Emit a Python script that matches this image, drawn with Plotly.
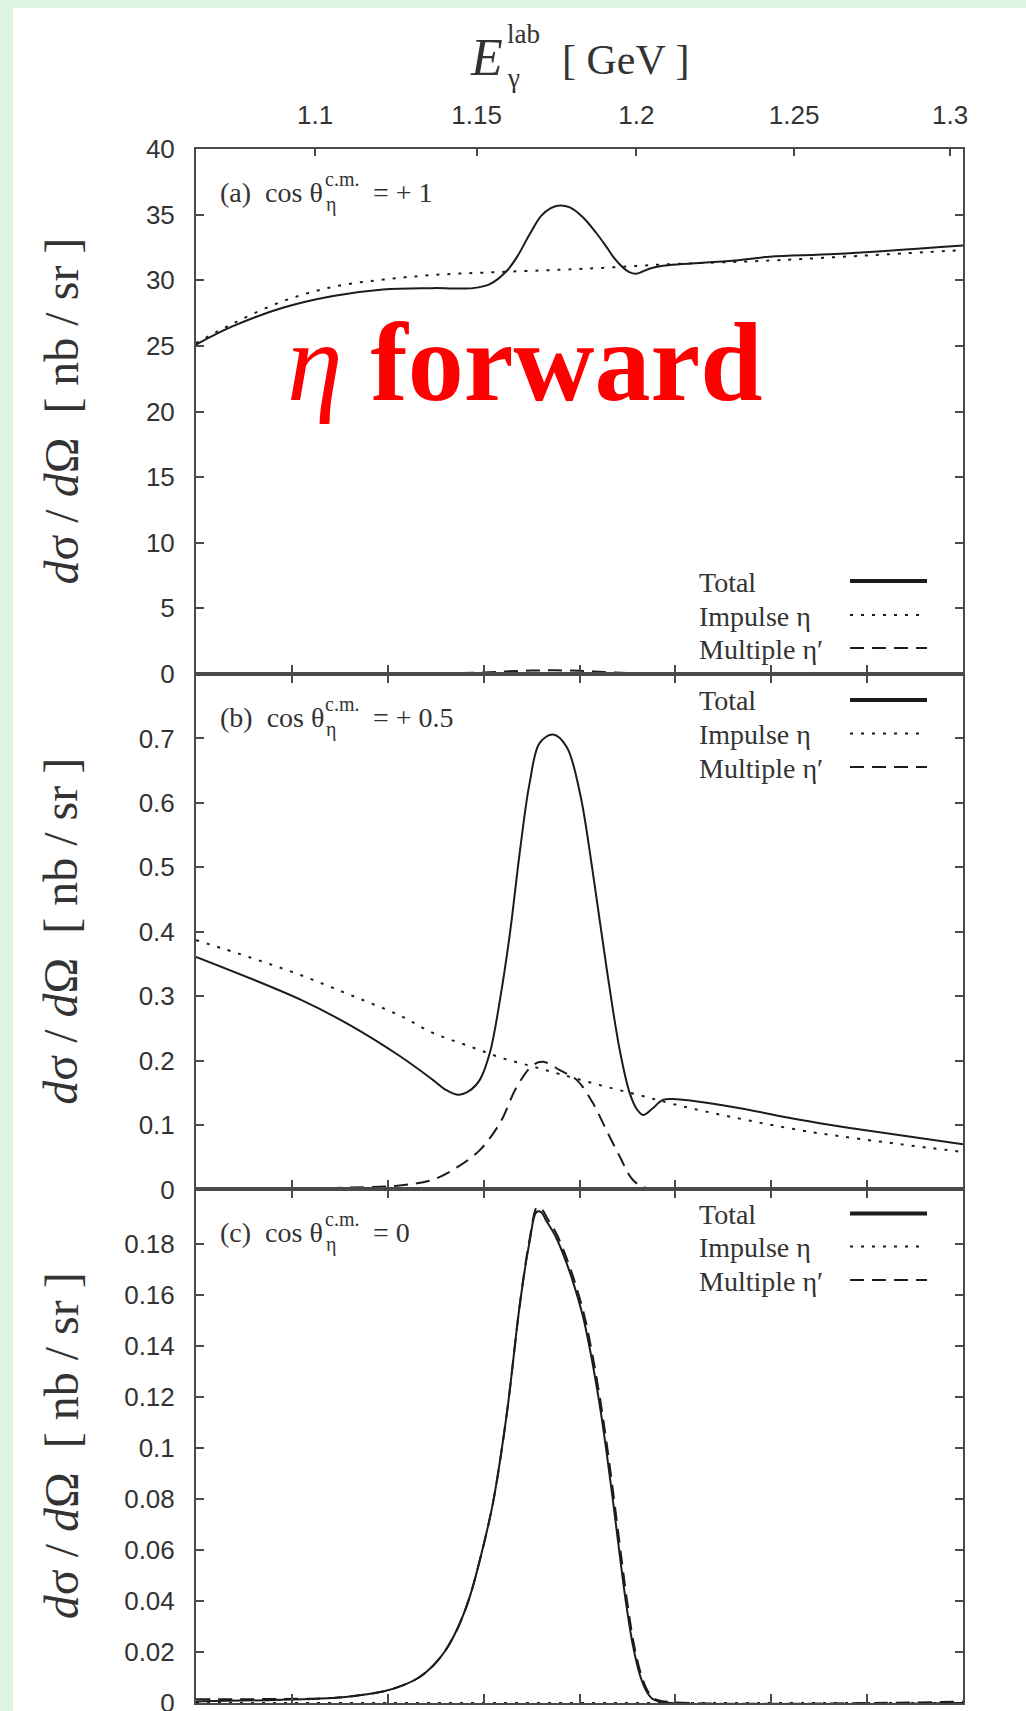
import math
import plotly.graph_objects as go

# ---------------- data (x = W, c.m. energy in GeV) ----------------
M_D = 1.875613  # deuteron mass, maps E_gamma^lab -> W for the top axis

# panel (a) cos = +1
w_a_total = [2.7400, 2.7477, 2.7581, 2.7686, 2.7790, 2.7894, 2.7978, 2.8013, 2.8048, 2.8070,
             2.8096, 2.8120, 2.8140, 2.8159, 2.8180, 2.8207, 2.8235, 2.8257, 2.8272, 2.8290,
             2.8305, 2.8319, 2.8347, 2.8374, 2.8524, 2.8597, 2.8734, 2.9000]
a_total = [25.1, 26.5, 27.9, 28.8, 29.3, 29.4, 29.4, 29.7, 30.7, 31.8,
           33.5, 34.9, 35.5, 35.7, 35.55, 34.8, 33.6, 32.5, 31.7, 31.0,
           30.6, 30.5, 30.9, 31.1, 31.5, 31.8, 32.0, 32.65]
w_a_imp = [2.7400, 2.7477, 2.7581, 2.7686, 2.7790, 2.7894, 2.8013, 2.8159, 2.8257, 2.8374,
           2.8597, 2.8734, 2.9000]
a_imp = [25.2, 26.7, 28.4, 29.5, 30.05, 30.4, 30.6, 30.8, 30.96, 31.2, 31.5, 31.76, 32.3]
w_a_mult = [2.740, 2.780, 2.790, 2.800, 2.805, 2.810, 2.815, 2.820, 2.825, 2.830, 2.840, 2.900]
a_mult = [0.0, 0.01, 0.04, 0.12, 0.20, 0.26, 0.28, 0.24, 0.15, 0.07, 0.01, 0.0]

# panel (b) cos = +0.5
w_b_total = [2.7400, 2.7617, 2.7721, 2.7825, 2.7894, 2.7920, 2.7946, 2.7970, 2.7992, 2.8013,
             2.8034, 2.8055, 2.8076, 2.8096, 2.8117, 2.8145, 2.8173, 2.8201, 2.8228, 2.8256,
             2.8284, 2.8305, 2.8320, 2.8333, 2.8353, 2.8374, 2.8402, 2.8520, 2.8659, 2.8768,
             2.9000]
b_total = [0.361, 0.295, 0.255, 0.207, 0.170, 0.155, 0.147, 0.153, 0.170, 0.212,
           0.294, 0.398, 0.527, 0.631, 0.693, 0.706, 0.687, 0.615, 0.491, 0.346,
           0.216, 0.149, 0.124, 0.1155, 0.126, 0.139, 0.140, 0.128, 0.108, 0.095,
           0.070]
w_b_imp = [2.7400, 2.7513, 2.7617, 2.7721, 2.7825, 2.7894, 2.7971, 2.8034, 2.8096, 2.8159,
           2.8242, 2.8326, 2.8409, 2.8520, 2.8659, 2.8768, 2.9000]
b_imp = [0.387, 0.360, 0.333, 0.302, 0.270, 0.243, 0.222, 0.205, 0.192, 0.179,
         0.162, 0.146, 0.130, 0.112, 0.092, 0.080, 0.058]
w_b_mult = [2.7400, 2.7617, 2.7721, 2.7825, 2.7894, 2.7946, 2.7992, 2.8034, 2.8069, 2.8103,
            2.8124, 2.8159, 2.8194, 2.8228, 2.8256, 2.8284, 2.8311, 2.8340, 2.8400, 2.9000]
b_mult = [0.000, 0.001, 0.003, 0.006, 0.015, 0.035, 0.061, 0.103, 0.159, 0.193,
          0.198, 0.185, 0.170, 0.134, 0.092, 0.051, 0.015, 0.002, 0.000, 0.000]

# panel (c) cos = 0
w_c_total = [2.7400, 2.7686, 2.7740, 2.7790, 2.7830, 2.7865, 2.7894, 2.7920, 2.7945, 2.7970,
             2.7992, 2.8019, 2.8048, 2.8076, 2.8096, 2.8110, 2.8120, 2.8131, 2.8150, 2.8173,
             2.8190, 2.8208, 2.8225, 2.8242, 2.8256, 2.8270, 2.8284, 2.8298, 2.8312, 2.8326,
             2.8340, 2.8353, 2.8380, 2.9000]
c_total = [0.0006, 0.0020, 0.0030, 0.0045, 0.0068, 0.0100, 0.0145, 0.0205, 0.0290, 0.0410,
           0.0560, 0.0780, 0.1130, 0.1570, 0.1810, 0.1925, 0.1925, 0.1890, 0.1830, 0.1725,
           0.1630, 0.1510, 0.1355, 0.1170, 0.0990, 0.0790, 0.0580, 0.0380, 0.0220, 0.0110,
           0.0045, 0.0015, 0.0002, 0.0000]
w_c_imp = [2.7400, 2.9000]
c_imp = [0.0, 0.0]
w_c_mult = [2.7400, 2.7686, 2.7740, 2.7790, 2.7830, 2.7865, 2.7894, 2.7920, 2.7945, 2.7970,
            2.7992, 2.8019, 2.8048, 2.8076, 2.8096, 2.8112, 2.8122, 2.8133, 2.8152, 2.8175,
            2.8192, 2.8210, 2.8227, 2.8244, 2.8258, 2.8272, 2.8286, 2.8300, 2.8314, 2.8328,
            2.8342, 2.8355, 2.8382, 2.9000]
c_mult = [0.0015, 0.0020, 0.0030, 0.0045, 0.0068, 0.0100, 0.0145, 0.0205, 0.0290, 0.0410,
          0.0560, 0.0780, 0.1130, 0.1570, 0.1820, 0.1945, 0.1935, 0.1900, 0.1840, 0.1735,
          0.1640, 0.1520, 0.1365, 0.1180, 0.1000, 0.0800, 0.0590, 0.0390, 0.0225, 0.0115,
          0.0048, 0.0018, 0.0005, 0.0005]

# axes ticks / labels
w_ticks = [2.76, 2.78, 2.80, 2.82, 2.84, 2.86, 2.88]
e_ticks = [1.10, 1.15, 1.20, 1.25, 1.30]
e_tick_labels = ["1.1", "1.15", "1.2", "1.25", "1.3"]
ya_ticks = [0, 5, 10, 15, 20, 25, 30, 35, 40]
ya_labels = ["0", "5", "10", "15", "20", "25", "30", "35", "40"]
yb_ticks = [0, 0.1, 0.2, 0.3, 0.4, 0.5, 0.6, 0.7]
yb_labels = ["0", "0.1", "0.2", "0.3", "0.4", "0.5", "0.6", "0.7"]
yc_ticks = [0, 0.02, 0.04, 0.06, 0.08, 0.1, 0.12, 0.14, 0.16, 0.18]
yc_labels = ["0", "0.02", "0.04", "0.06", "0.08", "0.1", "0.12", "0.14", "0.16", "0.18"]
panel_tags = ["(a)", "(b)", "(c)"]
panel_cos = ["= + 1", "= + 0.5", "= 0"]
legend_names = ["Total", "Impulse η", "Multiple η′"]

# ---------------- layout geometry ----------------
W_FIG, H_FIG = 1026, 1711
ML, MR, MT, MB = 196, 63, 149, 8
PW = W_FIG - ML - MR
PH = H_FIG - MT - MB


def fx(px):
    return (px - ML) / PW


def fy(py):
    return (H_FIG - MB - py) / PH


SERIF = "Liberation Serif, Times New Roman, serif"
SANS = "Liberation Sans, Arial, sans-serif"
LINE_C = "#1c1c1c"
AXIS_C = "#4a4a4a"
TXT_C = "#333333"

DOTS = "3px,8px"
DASH = "14px,8px"
SMOOTH = 1.0

fig = go.Figure()

panels = [
    ("x", "y", w_a_total, a_total, w_a_imp, a_imp, w_a_mult, a_mult),
    ("x2", "y2", w_b_total, b_total, w_b_imp, b_imp, w_b_mult, b_mult),
    ("x3", "y3", w_c_total, c_total, w_c_imp, c_imp, w_c_mult, c_mult),
]
for xa, ya, wt, vt, wi, vi, wm, vm in panels:
    fig.add_trace(go.Scatter(x=wm, y=vm, xaxis=xa, yaxis=ya, mode="lines",
                             line=dict(color=LINE_C, width=2, dash=DASH, shape="spline", smoothing=SMOOTH),
                             showlegend=False, name="Multiple η′"))
    fig.add_trace(go.Scatter(x=wi, y=vi, xaxis=xa, yaxis=ya, mode="lines",
                             line=dict(color=LINE_C, width=2, dash=DOTS, shape="spline", smoothing=SMOOTH),
                             showlegend=False, name="Impulse η"))
    fig.add_trace(go.Scatter(x=wt, y=vt, xaxis=xa, yaxis=ya, mode="lines",
                             line=dict(color=LINE_C, width=2, shape="spline", smoothing=SMOOTH),
                             showlegend=False, name="Total"))

XR = [2.74, 2.90]
w_of_e = [math.sqrt(M_D ** 2 + 2 * M_D * e) for e in e_ticks]

ax_common = dict(showline=True, linecolor=AXIS_C, linewidth=2, ticks="inside",
                 tickcolor=AXIS_C, tickwidth=2, showgrid=False, zeroline=False, automargin=False)
ytick_font = dict(family=SANS, size=26, color=TXT_C)

dom_a = [fy(674), 1.0]
dom_b = [fy(1189.4), fy(674)]
dom_c = [0.0, fy(1189.4)]

fig.update_layout(
    width=W_FIG, height=H_FIG,
    margin=dict(l=ML, r=MR, t=MT, b=MB, pad=0, autoexpand=False),
    paper_bgcolor="white", plot_bgcolor="white",
    showlegend=False,
    xaxis=dict(domain=[0, 1], anchor="y", range=XR, tickvals=w_ticks, showticklabels=False,
               ticklen=9, mirror=False, **ax_common),
    xaxis2=dict(domain=[0, 1], anchor="y2", range=XR, tickvals=w_ticks, showticklabels=False,
                ticklen=9, mirror="ticks", matches="x", **ax_common),
    xaxis3=dict(domain=[0, 1], anchor="y3", range=XR, tickvals=w_ticks, showticklabels=False,
                ticklen=9, mirror="ticks", matches="x", **ax_common),
    xaxis4=dict(overlaying="x", anchor="y", side="top", range=XR, tickvals=w_of_e,
                ticktext=e_tick_labels, ticklen=7, ticklabelstandoff=13,
                tickfont=dict(family=SANS, size=26, color=TXT_C), **ax_common),
    yaxis=dict(domain=dom_a, anchor="x", range=[0, 40], tickvals=ya_ticks, ticktext=ya_labels,
               ticklen=8, mirror="ticks", ticklabelstandoff=14, tickfont=ytick_font,
               ticklabeloverflow="allow", **ax_common),
    yaxis2=dict(domain=dom_b, anchor="x2", range=[0, 0.8], tickvals=yb_ticks, ticktext=yb_labels,
                ticklen=8, mirror="ticks", ticklabelstandoff=14, tickfont=ytick_font,
                ticklabeloverflow="allow", **ax_common),
    yaxis3=dict(domain=dom_c, anchor="x3", range=[0, 0.2014], tickvals=yc_ticks, ticktext=yc_labels,
                ticklen=8, mirror="ticks", ticklabelstandoff=14, tickfont=ytick_font,
                ticklabeloverflow="allow", **ax_common),
)

# dummy trace so xaxis4 is drawn
fig.add_trace(go.Scatter(x=[XR[0]], y=[0], xaxis="x4", yaxis="y", mode="markers",
                         marker=dict(opacity=0), showlegend=False, hoverinfo="skip"))

ann = []
shapes = []

# slide-like pale green frame (left and top)
shapes.append(dict(type="rect", xref="paper", yref="paper", x0=fx(0), x1=fx(13), y0=fy(H_FIG), y1=fy(0),
                   fillcolor="#ddf6e4", line=dict(width=0), layer="below"))
shapes.append(dict(type="rect", xref="paper", yref="paper", x0=fx(0), x1=fx(W_FIG), y0=fy(8), y1=fy(0),
                   fillcolor="#ddf6e4", line=dict(width=0), layer="below"))

# top axis title  E_gamma^lab [ GeV ]
ann.append(dict(text="<i>E</i>", x=fx(468), y=fy(58), xanchor="left", yanchor="middle",
                font=dict(family=SERIF, size=52, color=TXT_C)))
ann.append(dict(text="lab", x=fx(505), y=fy(34), xanchor="left", yanchor="middle",
                font=dict(family=SERIF, size=27, color=TXT_C)))
ann.append(dict(text="γ", x=fx(505), y=fy(78), xanchor="left", yanchor="middle",
                font=dict(family=SERIF, size=27, color=TXT_C)))
ann.append(dict(text="[ GeV ]", x=fx(560), y=fy(60), xanchor="left", yanchor="middle",
                font=dict(family=SERIF, size=42, color=TXT_C)))

panel_tops = [149, 674, 1189.4]
panel_bottoms = [674, 1189.4, 1703]
for i in range(3):
    top = panel_tops[i]
    cy = top + 43
    ann.append(dict(text=panel_tags[i] + "&nbsp;&nbsp;cos θ", x=fx(218), y=fy(cy), xanchor="left",
                    yanchor="middle", font=dict(family=SERIF, size=28, color=TXT_C)))
    ann.append(dict(text="c.m.", x=fx(323), y=fy(cy - 13), xanchor="left", yanchor="middle",
                    font=dict(family=SERIF, size=20, color=TXT_C)))
    ann.append(dict(text="η", x=fx(324), y=fy(cy + 12), xanchor="left", yanchor="middle",
                    font=dict(family=SERIF, size=20, color=TXT_C)))
    ann.append(dict(text=panel_cos[i], x=fx(371), y=fy(cy), xanchor="left", yanchor="middle",
                    font=dict(family=SERIF, size=28, color=TXT_C)))
    # y-axis title
    mid = (top + panel_bottoms[i]) / 2
    ann.append(dict(text="<i>d</i>σ / <i>d</i>Ω&nbsp;&nbsp;[ nb / sr ]", x=fx(61), y=fy(mid),
                    xanchor="center", yanchor="middle", textangle=-90,
                    font=dict(family=SERIF, size=48, color=TXT_C)))

# legends (text left, line sample right)
legend_rows = [[581, 615, 648], [700, 733.5, 767], [1213.5, 1246.5, 1280]]
styles = [dict(width=4, dash="solid"), dict(width=2, dash=DOTS), dict(width=2, dash=DASH)]
for rows in legend_rows:
    for k, yy in enumerate(rows):
        ann.append(dict(text=legend_names[k], x=fx(697), y=fy(yy + 1), xanchor="left", yanchor="middle",
                        font=dict(family=SERIF, size=28, color=TXT_C)))
        shapes.append(dict(type="line", xref="paper", yref="paper", x0=fx(850), x1=fx(927),
                           y0=fy(yy), y1=fy(yy), line=dict(color=LINE_C, **styles[k])))

# red overlay text
ann.append(dict(text="<i>η</i> <b>forward</b>", x=fx(524), y=fy(362), xanchor="center", yanchor="middle",
                font=dict(family=SERIF, size=112, color="#ff0000")))

for a in ann:
    a.setdefault("xref", "paper")
    a.setdefault("yref", "paper")
    a["showarrow"] = False
fig.update_layout(annotations=ann, shapes=shapes)

fig.write_html("out.html")
